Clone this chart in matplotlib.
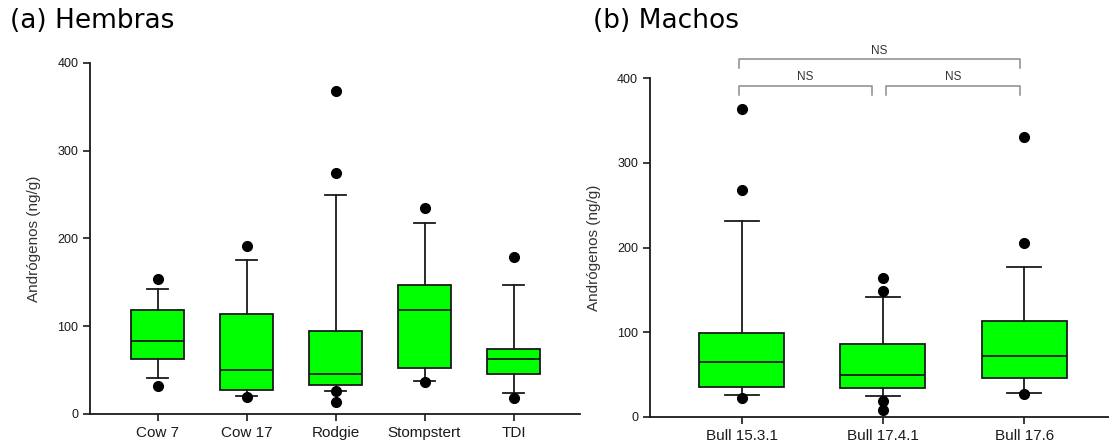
import matplotlib
matplotlib.use("Agg")
import matplotlib.pyplot as plt

plt.rcParams['font.family'] = ['Liberation Sans', 'DejaVu Sans']

# (a) Hembras
cows = ['Cow 7', 'Cow 17', 'Rodgie', 'Stompstert', 'TDI']
cow_q1 = [62.7, 27, 33.6, 52, 45]
cow_med = [83.5, 50.6, 46, 119, 62.3]
cow_q3 = [118, 114.4, 94.8, 147.3, 74.4]
cow_wlo = [41, 20, 26.4, 37.4, 24.2]
cow_whi = [142, 176, 250, 217.6, 147.3]
cow_fliers = [[154, 32], [191, 19.6], [368.6, 275, 26.4, 13.6], [235, 36], [179.4, 18.5]]

# (b) Machos
bulls = ['Bull 15.3.1', 'Bull 17.4.1', 'Bull 17.6']
bull_q1 = [35.4, 34.2, 45.6]
bull_med = [65.3, 49.6, 72.4]
bull_q3 = [98.7, 86.5, 113.7]
bull_wlo = [26, 25.2, 28.3]
bull_whi = [230.9, 141.6, 177]
bull_fliers = [[364, 268, 22], [164, 149, 19.3, 7.9], [330.8, 205, 26.7]]

# comparison brackets: start, end, height, label
br_start = [0.98, 2.02, 0.98]
br_end = [1.92, 2.97, 2.97]
br_height = [391, 391, 422.4]
br_label = ['NS', 'NS', 'NS']


def make_stats(names, q1, med, q3, wlo, whi, fliers):
    stats = []
    for i in range(len(names)):
        stats.append(dict(label=names[i], q1=q1[i], med=med[i], q3=q3[i],
                          whislo=wlo[i], whishi=whi[i], fliers=fliers[i]))
    return stats


def draw_box(ax, stats):
    ax.bxp(stats, positions=range(1, len(stats) + 1), widths=0.6,
           capwidths=0.24, patch_artist=True, showfliers=True,
           boxprops=dict(facecolor='#00ff00', edgecolor='#1a1a1a', linewidth=1.3),
           medianprops=dict(color='#1a1a1a', linewidth=1.3),
           whiskerprops=dict(color='#1a1a1a', linewidth=1.3),
           capprops=dict(color='#1a1a1a', linewidth=1.3),
           flierprops=dict(marker='o', markerfacecolor='black',
                           markeredgecolor='black', markersize=7))
    ax.set_ylim(0, 400)
    ax.set_yticks([0, 100, 200, 300, 400])
    ax.spines['top'].set_visible(False)
    ax.spines['right'].set_visible(False)
    for s in ['left', 'bottom']:
        ax.spines[s].set_linewidth(1.3)
        ax.spines[s].set_color('#1a1a1a')
    ax.tick_params(axis='y', labelsize=9, length=5, width=1.2, colors='#1a1a1a')
    ax.tick_params(axis='x', labelsize=11, length=5, width=1.2, colors='#1a1a1a')
    ax.set_ylabel('Andrógenos (ng/g)', fontsize=11, color='#333333', labelpad=12)


fig = plt.figure(figsize=(11.09, 4.43), dpi=100)
ax1 = fig.add_axes([0.0812, 0.0655, 0.4418, 0.7923])
ax2 = fig.add_axes([0.5861, 0.0587, 0.4139, 0.765])

draw_box(ax1, make_stats(cows, cow_q1, cow_med, cow_q3, cow_wlo, cow_whi, cow_fliers))
ax1.set_xlim(0.242, 5.747)

draw_box(ax2, make_stats(bulls, bull_q1, bull_med, bull_q3, bull_wlo, bull_whi, bull_fliers))
ax2.set_xlim(0.352, 3.6)

for x0, x1, y, lab in zip(br_start, br_end, br_height, br_label):
    ax2.plot([x0, x0, x1, x1], [y - 10.5, y, y, y - 10.5], color='#8c8c8c',
             linewidth=1.1, clip_on=False)
    ax2.text((x0 + x1) / 2, y + 3, lab, ha='center', va='bottom',
             fontsize=8.5, color='#333333', clip_on=False)

fig.text(0.009, 0.952, '(a) Hembras', fontsize=19, family='DejaVu Sans', va='center')
fig.text(0.5345, 0.952, '(b) Machos', fontsize=19, family='DejaVu Sans', va='center')

fig.savefig('out.png', dpi=100)
